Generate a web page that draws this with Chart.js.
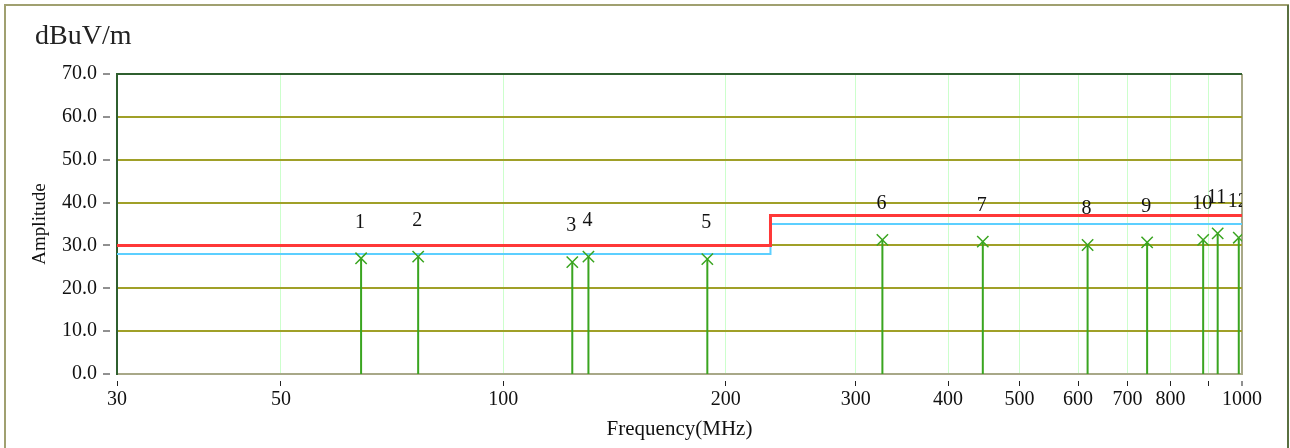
<!DOCTYPE html>
<html>
<head>
<meta charset="utf-8">
<script src="https://cdn.jsdelivr.net/npm/chart.js@4/dist/chart.umd.min.js"></script>
<style>
  body { margin: 0; background: #fff; }
  #wrap { width: 1290px; height: 448px; }
</style>
</head>
<body>
<div id="wrap"><canvas id="emi-chart" width="1290" height="448"></canvas></div>
<script>
// Chart values
const markerLabels = ['1', '2', '3', '4', '5', '6', '7', '8', '9', '10', '11', '12'];
const markerFreq = [64.2, 76.7, 124, 130.4, 188.9, 326, 445.8, 618, 744, 886, 927, 990];
const markerLevel = [27.0, 27.4, 26.1, 27.4, 26.8, 31.3, 30.9, 30.1, 30.7, 31.3, 32.8, 31.8];

// Limit line (red) and margin line (blue)
const limitFreq = [30, 230, 230, 1000];
const limitLevel = [30, 30, 37, 37];
const marginLevel = [28, 28, 35, 35];

// Axis ticks
const xTickValues = [30, 50, 100, 200, 300, 400, 500, 600, 700, 800, 900, 1000];
const xTickLabels = ['30', '50', '100', '200', '300', '400', '500', '600', '700', '800', '', '1000'];
const yTickValues = [0, 10, 20, 30, 40, 50, 60, 70];

const serif = "'Liberation Serif', 'Times New Roman', serif";
const olive = '#a0a028';
const darkGreen = '#2f5f2f';
const frameGray = '#a8a888';
const stemGreen = '#3aa520';

// Stems: one short segment per marker, broken by null points
const stemData = [];
markerFreq.forEach((f, i) => {
    stemData.push({ x: f, y: 0 });
    stemData.push({ x: f, y: markerLevel[i] });
    stemData.push({ x: f, y: null });
});

// Outer frame, white background and the unit caption
const framePlugin = {
    id: 'frame',
    beforeDraw(chart) {
        const ctx = chart.ctx;
        ctx.save();
        ctx.fillStyle = '#fff';
        ctx.fillRect(0, 0, chart.width, chart.height);
        ctx.strokeStyle = '#a0a070';
        ctx.lineWidth = 2;
        ctx.strokeRect(5, 5, 1283, 460);
        ctx.strokeStyle = '#5a7040';
        ctx.beginPath();
        ctx.moveTo(1288, 5);
        ctx.lineTo(1288, 448);
        ctx.stroke();
        ctx.fillStyle = '#222';
        ctx.font = '28px ' + serif;
        ctx.textBaseline = 'alphabetic';
        ctx.fillText('dBuV/m', 35, 44);
        ctx.restore();
    }
};

// Marker numbers above each cross
const markerLabelPlugin = {
    id: 'markerLabels',
    afterDatasetsDraw(chart) {
        const ctx = chart.ctx;
        const xs = chart.scales.x;
        const ys = chart.scales.y;
        const area = chart.chartArea;
        ctx.save();
        ctx.beginPath();
        ctx.rect(area.left, area.top, area.right - area.left, area.bottom - area.top);
        ctx.clip();
        ctx.fillStyle = '#111';
        ctx.font = '20px ' + serif;
        ctx.textAlign = 'center';
        ctx.textBaseline = 'middle';
        markerLabels.forEach((lab, i) => {
            const px = xs.getPixelForValue(markerFreq[i]) - 1;
            const py = ys.getPixelForValue(markerLevel[i]) - 36;
            ctx.fillText(lab, px, py);
        });
        ctx.restore();
    }
};

const ctx = document.getElementById('emi-chart').getContext('2d');
const emiChart = new Chart(ctx, {
    type: 'scatter',
    data: {
        datasets: [
            {
                label: 'Peaks',
                data: markerFreq.map((f, i) => ({ x: f, y: markerLevel[i] })),
                pointStyle: 'crossRot',
                pointRadius: 8,
                borderColor: stemGreen,
                borderWidth: 1.5,
                backgroundColor: stemGreen
            },
            {
                label: 'Stems',
                data: stemData,
                showLine: true,
                spanGaps: false,
                borderColor: stemGreen,
                borderWidth: 2,
                pointRadius: 0
            },
            {
                label: 'Limit',
                data: limitFreq.map((f, i) => ({ x: f, y: limitLevel[i] })),
                showLine: true,
                borderColor: '#ff3838',
                borderWidth: 3,
                pointRadius: 0
            },
            {
                label: 'Margin',
                data: limitFreq.map((f, i) => ({ x: f, y: marginLevel[i] })),
                showLine: true,
                borderColor: '#5ccfff',
                borderWidth: 2,
                pointRadius: 0
            }
        ]
    },
    options: {
        responsive: false,
        animation: false,
        layout: { padding: { left: 0, top: 74, right: 48, bottom: 0 } },
        plugins: {
            legend: { display: false },
            tooltip: { enabled: false }
        },
        scales: {
            x: {
                type: 'logarithmic',
                min: 30,
                max: 1000,
                afterBuildTicks: (scale) => { scale.ticks = xTickValues.map(v => ({ value: v })); },
                afterFit: (scale) => { scale.height = 74; },
                ticks: {
                    autoSkip: false,
                    maxRotation: 0,
                    color: '#111',
                    font: { family: serif, size: 20 },
                    padding: 2,
                    callback: (value, index) => xTickLabels[index]
                },
                grid: {
                    color: (c) => {
                        if (!c.tick) return '#ccffcc';
                        if (c.tick.value === 1000) return frameGray;
                        if (c.tick.value === 30) return 'rgba(0,0,0,0)';
                        return '#ccffcc';
                    },
                    lineWidth: (c) => (c.tick && c.tick.value === 1000 ? 2 : 1),
                    tickLength: 12,
                    tickColor: '#222',
                    tickWidth: 1,
                    tickBorderDash: [6, 6],
                    tickBorderDashOffset: 6
                },
                border: { color: frameGray, width: 2 },
                title: {
                    display: true,
                    text: 'Frequency(MHz)',
                    color: '#111',
                    font: { family: serif, size: 21 },
                    padding: { top: 0, bottom: 6 }
                }
            },
            y: {
                min: 0,
                max: 70,
                afterBuildTicks: (scale) => { scale.ticks = yTickValues.map(v => ({ value: v })); },
                afterFit: (scale) => { scale.width = 117; },
                ticks: {
                    color: '#111',
                    font: { family: serif, size: 20 },
                    padding: 6,
                    callback: (value) => value.toFixed(1)
                },
                grid: {
                    color: (c) => {
                        if (!c.tick) return olive;
                        if (c.tick.value === 70) return darkGreen;
                        if (c.tick.value === 0) return 'rgba(0,0,0,0)';
                        return olive;
                    },
                    lineWidth: 2,
                    tickLength: 14,
                    tickColor: '#222',
                    tickWidth: 1,
                    tickBorderDash: [7, 20]
                },
                border: { color: darkGreen, width: 2 },
                title: {
                    display: true,
                    text: 'Amplitude',
                    color: '#111',
                    font: { family: serif, size: 19 },
                    padding: { top: 29, bottom: 0 }
                }
            }
        }
    },
    plugins: [framePlugin, markerLabelPlugin]
});
</script>
</body>
</html>
